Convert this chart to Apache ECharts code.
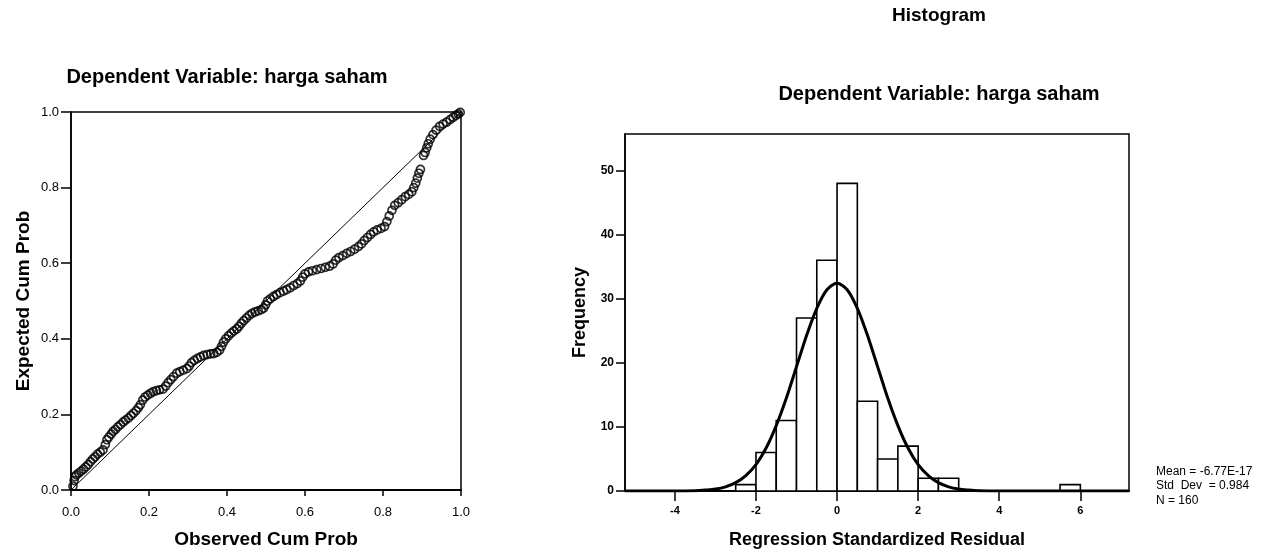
<!DOCTYPE html>
<html>
<head>
<meta charset="utf-8">
<script src="https://cdn.jsdelivr.net/npm/echarts@6/dist/echarts.min.js"></script>
<style>
  html, body { margin: 0; padding: 0; background: #fff; }
  #main { width: 1273px; height: 554px; }
</style>
</head>
<body>
<div id="main"></div>
<script>
// P-P plot: observed vs expected cumulative probability
var ppObserved = [
  0.005, 0.008, 0.010, 0.014, 0.020, 0.026, 0.032, 0.038, 0.044, 0.050,
  0.056, 0.062, 0.068, 0.075, 0.082, 0.088, 0.092, 0.097, 0.103, 0.108,
  0.114, 0.120, 0.127, 0.134, 0.140, 0.147, 0.154, 0.160, 0.167, 0.173,
  0.178, 0.184, 0.190, 0.197, 0.204, 0.211, 0.219, 0.227, 0.236, 0.243,
  0.249, 0.256, 0.263, 0.271, 0.279, 0.288, 0.297, 0.303, 0.309, 0.316,
  0.324, 0.332, 0.340, 0.349, 0.358, 0.366, 0.374, 0.381, 0.386, 0.391,
  0.397, 0.404, 0.411, 0.418, 0.425, 0.431, 0.437, 0.443, 0.450, 0.457,
  0.464, 0.472, 0.480, 0.488, 0.494, 0.499, 0.504, 0.511, 0.519, 0.527,
  0.536, 0.545, 0.553, 0.562, 0.571, 0.580, 0.588, 0.594, 0.600, 0.609,
  0.619, 0.630, 0.641, 0.652, 0.663, 0.672, 0.679, 0.687, 0.697, 0.707,
  0.717, 0.727, 0.737, 0.745, 0.752, 0.760, 0.768, 0.776, 0.785, 0.795,
  0.804, 0.810, 0.816, 0.823, 0.830, 0.839, 0.848, 0.857, 0.866, 0.874,
  0.879, 0.884, 0.888, 0.892, 0.896, 0.904, 0.908, 0.912, 0.916, 0.921,
  0.928, 0.936, 0.945, 0.954, 0.963, 0.972, 0.980, 0.987, 0.993, 0.998
];
var ppExpected = [
  0.010, 0.025, 0.035, 0.040, 0.045, 0.050, 0.055, 0.061, 0.067, 0.075,
  0.082, 0.088, 0.095, 0.100, 0.106, 0.120, 0.133, 0.140, 0.148, 0.155,
  0.160, 0.167, 0.173, 0.180, 0.185, 0.190, 0.197, 0.203, 0.210, 0.218,
  0.226, 0.238, 0.246, 0.251, 0.256, 0.260, 0.263, 0.265, 0.267, 0.275,
  0.284, 0.292, 0.300, 0.309, 0.313, 0.317, 0.321, 0.328, 0.337, 0.343,
  0.348, 0.352, 0.356, 0.358, 0.360, 0.361, 0.364, 0.370, 0.380, 0.391,
  0.400, 0.408, 0.415, 0.421, 0.426, 0.433, 0.441, 0.448, 0.455, 0.462,
  0.467, 0.471, 0.474, 0.477, 0.481, 0.490, 0.500, 0.506, 0.512, 0.517,
  0.522, 0.526, 0.530, 0.535, 0.541, 0.546, 0.553, 0.563, 0.572, 0.577,
  0.580, 0.583, 0.586, 0.589, 0.592, 0.598, 0.608, 0.615, 0.620, 0.626,
  0.631, 0.637, 0.644, 0.651, 0.660, 0.668, 0.676, 0.683, 0.688, 0.692,
  0.697, 0.710, 0.725, 0.740, 0.753, 0.760, 0.768, 0.776, 0.782, 0.789,
  0.800, 0.812, 0.825, 0.838, 0.848, 0.885, 0.893, 0.905, 0.916, 0.928,
  0.940, 0.952, 0.962, 0.968, 0.973, 0.980, 0.986, 0.991, 0.995, 0.999
];
var refLine = [[0, 0], [1, 1]];

// histogram bins (width 0.5) and counts
var binStart = [-2.5, -2, -1.5, -1, -0.5, 0, 0.5, 1, 1.5, 2, 2.5, 5.5];
var binEnd = [-2, -1.5, -1, -0.5, 0, 0.5, 1, 1.5, 2, 2.5, 3, 6];
var freq = [1, 6, 11, 27, 36, 48, 14, 5, 7, 2, 2, 1];

// normal curve
var curveX = [-5.23, -4, -3.5, -3.25, -3, -2.75, -2.5, -2.25, -2, -1.75, -1.5, -1.25, -1, -0.75, -0.5, -0.25,
  0, 0.25, 0.5, 0.75, 1, 1.25, 1.5, 1.75, 2, 2.25, 2.5, 2.75, 3, 3.25, 3.5, 4, 7.2];
var curveY = [0, 0, 0.05, 0.15, 0.3, 0.65, 1.3, 2.4, 4.1, 6.7, 10.2, 14.5, 19.4, 24.3, 28.5, 31.4,
  32.4, 31.4, 28.5, 24.3, 19.4, 14.5, 10.2, 6.7, 4.1, 2.4, 1.3, 0.65, 0.3, 0.15, 0.05, 0, 0];

var histXTicks = [-4, -2, 0, 2, 4, 6];
var histYTicks = [0, 10, 20, 30, 40, 50];

var FONT = '"Liberation Sans", Arial, sans-serif';

var chart = echarts.init(document.getElementById('main'));

var ppData = ppObserved.map(function (x, i) { return [x, ppExpected[i]]; });
var histData = freq.map(function (f, i) { return [binStart[i], binEnd[i], f]; });
var curveData = curveX.map(function (x, i) { return [x, curveY[i]]; });

chart.setOption({
  backgroundColor: '#fff',
  animation: false,
  textStyle: { fontFamily: FONT },
  graphic: [
    { type: 'text', x: 227, y: 77, style: { text: 'Dependent Variable: harga saham', font: 'bold 20px ' + FONT, fill: '#000', align: 'center', verticalAlign: 'middle' } },
    { type: 'text', x: 939, y: 16, style: { text: 'Histogram', font: 'bold 19px ' + FONT, fill: '#000', align: 'center', verticalAlign: 'middle' } },
    { type: 'text', x: 939, y: 94, style: { text: 'Dependent Variable: harga saham', font: 'bold 20px ' + FONT, fill: '#000', align: 'center', verticalAlign: 'middle' } },
    { type: 'text', x: 1156, y: 464, style: { text: 'Mean = -6.77E-17\nStd  Dev  = 0.984\nN = 160', font: '12px ' + FONT, lineHeight: 14.5, fill: '#000' } }
  ],
  grid: [
    { left: 71, top: 112, width: 390, height: 382, show: true, borderColor: '#000', borderWidth: 1.5, backgroundColor: 'transparent' },
    { left: 625, top: 134, width: 504, height: 359, show: true, borderColor: '#000', borderWidth: 1.5, backgroundColor: 'transparent' }
  ],
  xAxis: [
    {
      gridIndex: 0, type: 'value', min: 0, max: 1, interval: 0.2,
      name: 'Observed Cum Prob', nameLocation: 'middle', nameGap: 40,
      nameTextStyle: { fontSize: 19, fontWeight: 'bold', color: '#000' },
      axisLine: { onZero: false, lineStyle: { color: '#000', width: 2 } },
      axisTick: { length: 6, lineStyle: { color: '#000', width: 1.5 } },
      axisLabel: { fontSize: 13, color: '#000', margin: 16, formatter: function (v) { return v.toFixed(1); } },
      splitLine: { show: false }
    },
    {
      gridIndex: 1, type: 'value', min: -5.23, max: 7.2,
      name: 'Regression Standardized Residual', nameLocation: 'middle', nameGap: 40,
      nameTextStyle: { fontSize: 18, fontWeight: 'bold', color: '#000' },
      axisLine: { onZero: false, lineStyle: { color: '#000', width: 2 } },
      axisTick: { length: 10, lineStyle: { color: '#000', width: 1.5 }, customValues: histXTicks },
      axisLabel: { fontSize: 11, fontWeight: 'bold', color: '#000', margin: 14, customValues: histXTicks },
      splitLine: { show: false }
    }
  ],
  yAxis: [
    {
      gridIndex: 0, type: 'value', min: 0, max: 1, interval: 0.2,
      name: 'Expected Cum Prob', nameLocation: 'middle', nameGap: 38,
      nameTextStyle: { fontSize: 19, fontWeight: 'bold', color: '#000' },
      axisLine: { show: true, onZero: false, lineStyle: { color: '#000', width: 1.5 } },
      axisTick: { show: true, length: 10, lineStyle: { color: '#000', width: 1.5 } },
      axisLabel: { fontSize: 13, color: '#000', margin: 12, formatter: function (v) { return v.toFixed(1); } },
      splitLine: { show: false }
    },
    {
      gridIndex: 1, type: 'value', min: 0, max: 55.7,
      name: 'Frequency', nameLocation: 'middle', nameGap: 36,
      nameTextStyle: { fontSize: 18, fontWeight: 'bold', color: '#000' },
      axisLine: { show: true, onZero: false, lineStyle: { color: '#000', width: 1.5 } },
      axisTick: { show: true, length: 9, lineStyle: { color: '#000', width: 1.5 }, customValues: histYTicks },
      axisLabel: { fontSize: 12, fontWeight: 'bold', color: '#000', margin: 11, customValues: histYTicks },
      splitLine: { show: false }
    }
  ],
  series: [
    {
      type: 'line', xAxisIndex: 0, yAxisIndex: 0, data: refLine,
      showSymbol: false, lineStyle: { color: '#000', width: 1 }, z: 2
    },
    {
      type: 'scatter', xAxisIndex: 0, yAxisIndex: 0, data: ppData,
      symbol: 'circle', symbolSize: 8,
      itemStyle: { color: 'rgba(0,0,0,0)', borderColor: '#000', borderWidth: 1.7 }, z: 3
    },
    {
      type: 'custom', xAxisIndex: 1, yAxisIndex: 1, data: histData,
      encode: { x: [0, 1], y: 2 },
      renderItem: function (params, api) {
        var p0 = api.coord([api.value(0), api.value(2)]);
        var p1 = api.coord([api.value(1), 0]);
        return {
          type: 'rect',
          shape: { x: p0[0], y: p0[1], width: p1[0] - p0[0], height: p1[1] - p0[1] },
          style: { fill: '#fff', stroke: '#000', lineWidth: 1.6 }
        };
      },
      z: 2
    },
    {
      type: 'line', xAxisIndex: 1, yAxisIndex: 1, data: curveData,
      smooth: 0.3, showSymbol: false,
      lineStyle: { color: '#000', width: 3 }, z: 4
    }
  ]
});
</script>
</body>
</html>
